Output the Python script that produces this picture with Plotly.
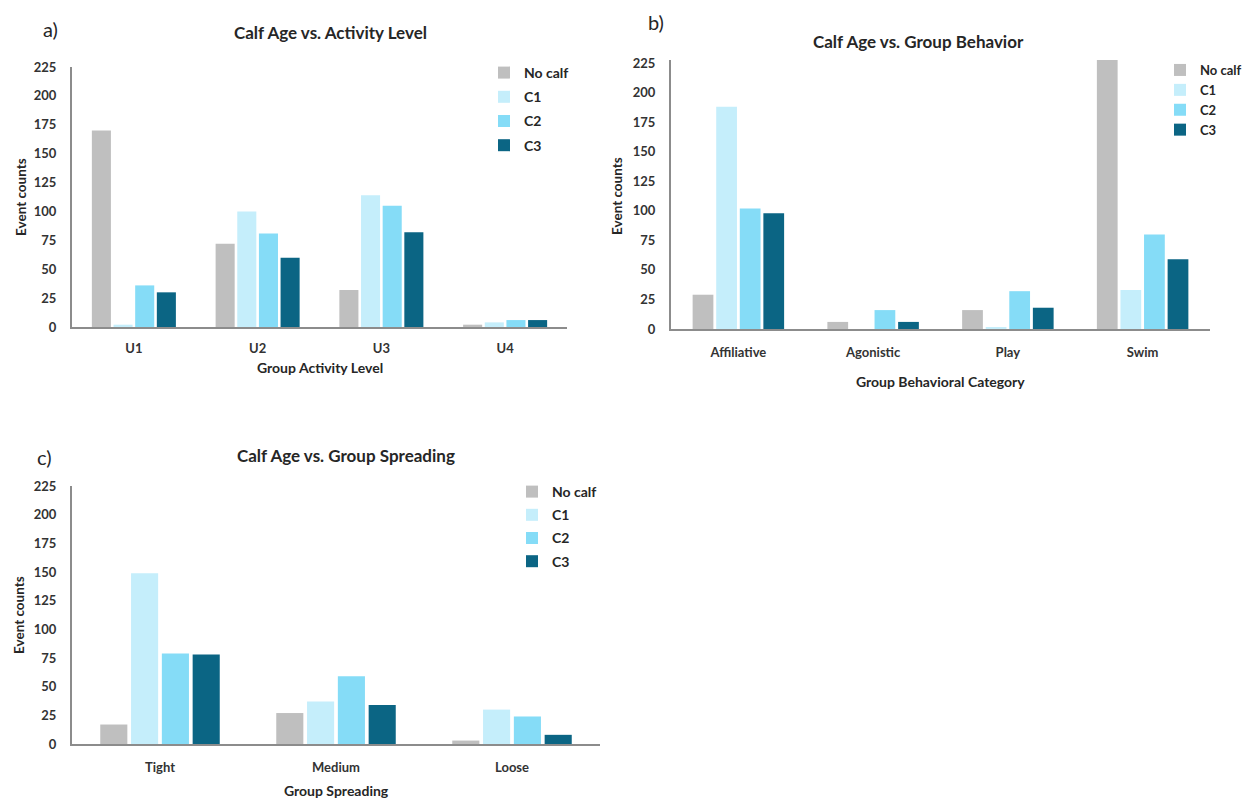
import plotly.graph_objects as go

series = ["No calf", "C1", "C2", "C3"]
colors = ["#bfbfbf", "#c5eefb", "#85dcf7", "#0b6584"]

# Panel a
activity_levels = ["U1", "U2", "U3", "U4"]
activity_values = {
    "No calf": [170, 72, 32, 2],
    "C1": [2, 100, 114, 4],
    "C2": [36, 81, 105, 6],
    "C3": [30, 60, 82, 6],
}

# Panel b
behaviors = ["Affiliative", "Agonistic", "Play", "Swim"]
behavior_values = {
    "No calf": [29, 6, 16, 228],
    "C1": [188, 0, 1, 33],
    "C2": [102, 16, 32, 80],
    "C3": [98, 6, 18, 59],
}

# Panel c
spreading = ["Tight", "Medium", "Loose"]
spreading_values = {
    "No calf": [17, 27, 3],
    "C1": [149, 37, 30],
    "C2": [79, 59, 24],
    "C3": [78, 34, 8],
}

y_ticks = [0, 25, 50, 75, 100, 125, 150, 175, 200, 225]

W, H = 1249, 800
FONT = "Lato"
TXT = "#262626"


def px(x):
    return x / W


def py(y):
    return 1 - y / H


fig = go.Figure()

panels = [
    ("x", "y", "legend", activity_levels, activity_values, "a"),
    ("x2", "y2", "legend2", behaviors, behavior_values, "b"),
    ("x3", "y3", "legend3", spreading, spreading_values, "c"),
]

for xa, ya, lg, cats, vals, tag in panels:
    for s, c in zip(series, colors):
        fig.add_trace(go.Bar(
            x=cats, y=vals[s], name=s, marker_color=c,
            marker_line_width=0, xaxis=xa, yaxis=ya, legend=lg,
            legendgroup=tag + s,
        ))

axis_common = dict(
    showgrid=False, zeroline=False, showline=True, linecolor="#8c8c8c",
    linewidth=2, ticks="", automargin=False,
    tickfont=dict(family=FONT, size=13, color="#333333", weight="bold"),
    fixedrange=True,
)

# geometry (pixels)
geo = {
    "a": dict(x0=72, x1=567, y0=327, y1=67, top=225, xstand=8),
    "b": dict(x0=671, x1=1210, y0=329, y1=60, top=227.6, xstand=10),
    "c": dict(x0=72, x1=600, y0=744, y1=486, top=225, xstand=10),
}

layout = dict(
    template="none",
    width=W, height=H, margin=dict(l=0, r=0, t=0, b=0, autoexpand=False),
    paper_bgcolor="white", plot_bgcolor="white",
    barmode="group", bargap=0.30, bargroupgap=0.12,
    font=dict(family=FONT, color=TXT),
    showlegend=True,
)

names = {"a": ("xaxis", "yaxis"), "b": ("xaxis2", "yaxis2"), "c": ("xaxis3", "yaxis3")}
anchors = {"a": ("y", "x"), "b": ("y2", "x2"), "c": ("y3", "x3")}
for k, g in geo.items():
    xn, yn = names[k]
    layout[xn] = dict(axis_common, domain=[px(g["x0"]), px(g["x1"])], anchor=anchors[k][0],
                      ticklabelstandoff=g["xstand"])
    layout[yn] = dict(axis_common, domain=[py(g["y0"]), py(g["y1"])], anchor=anchors[k][1],
                      range=[0, g["top"]], tickvals=y_ticks, ticklabelstandoff=11)

legend_common = dict(
    bgcolor="rgba(0,0,0,0)", xanchor="left", yanchor="top",
    itemclick=False, itemdoubleclick=False,
)
layout["legend"] = dict(legend_common, x=px(484), y=py(57), tracegroupgap=3,
                        font=dict(family=FONT, size=14, color=TXT, weight="bold"))
layout["legend2"] = dict(legend_common, x=px(1160), y=py(55), tracegroupgap=0,
                         font=dict(family=FONT, size=13, color=TXT, weight="bold"))
layout["legend3"] = dict(legend_common, x=px(512), y=py(476), tracegroupgap=2,
                         font=dict(family=FONT, size=14, color=TXT, weight="bold"))

annotations = []


def ann(text, x, y, size, bold=True, angle=0, color=TXT):
    annotations.append(dict(
        text=text, x=px(x), y=py(y), xref="paper", yref="paper",
        showarrow=False, textangle=angle, xanchor="center", yanchor="middle",
        font=dict(family=FONT, size=size, color=color, weight="bold" if bold else "normal"),
    ))


# panel labels
ann("a)", 50, 29, 20, bold=False)
ann("b)", 656, 22, 20, bold=False)
ann("c)", 44, 457, 20, bold=False)

# titles
ann("Calf Age vs. Activity Level", 330, 32, 17)
ann("Calf Age vs. Group Behavior", 918, 42, 17)
ann("Calf Age vs. Group Spreading", 346, 456, 17)

# x axis titles
ann("Group Activity Level", 320, 367, 14)
ann("Group Behavioral Category", 940, 381, 14)
ann("Group Spreading", 336, 790, 14)

# y axis titles
ann("Event counts", 21, 197, 13.5, angle=-90)
ann("Event counts", 617, 196, 13.5, angle=-90)
ann("Event counts", 19, 615, 13.5, angle=-90)

layout["annotations"] = annotations
fig.update_layout(**layout)

fig.write_html(
    "out.html",
    config={"displayModeBar": False},
    post_script="document.body.style.margin='0';document.body.style.overflow='hidden';",
)
